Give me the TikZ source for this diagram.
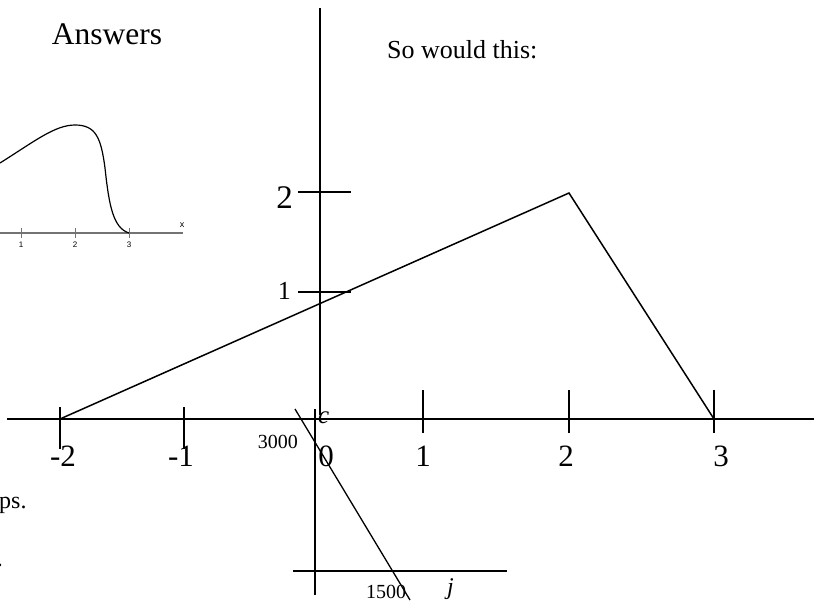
\documentclass[tikz,border=0pt]{standalone}
\usepackage{fontspec}
\setmainfont{Liberation Serif}
\newfontfamily\smallsans{Liberation Sans}
\begin{document}
\begin{tikzpicture}[x=1pt,y=-1pt,
  axis/.style={line width=1.5pt},
  plotline/.style={line width=1.5pt},
  gray axis/.style={line width=1.3pt,draw=black!55},
  big/.style={font=\fontsize{31}{31}\selectfont,inner sep=0pt},
  mid/.style={font=\fontsize{20}{20}\selectfont,inner sep=0pt},
  tiny/.style={font=\smallsans\fontsize{8}{8}\selectfont,inner sep=0pt},
]
\useasboundingbox (0,0) rectangle (814,600);

% titles
\node[font=\fontsize{31.5}{31.5}\selectfont,inner sep=0pt,anchor=base] (title) at (107,44.5) {Answers};
\node[font=\fontsize{26}{26}\selectfont,inner sep=0pt,anchor=base west] (sowould) at (387,58) {So would this:};
\node[font=\fontsize{24}{24}\selectfont,inner sep=0pt,anchor=base west] (ps) at (-1,508) {ps.};
\node[font=\fontsize{24}{24}\selectfont,inner sep=0pt,anchor=base east] (dot) at (3,566) {.};

% small graph (inset)
\coordinate (sa0) at (0,233);
\coordinate (sa1) at (183,233);
\draw[gray axis] (sa0) -- (sa1);
\foreach \i/\x in {1/21,2/75,3/129}{
  \coordinate (st\i a) at (\x,228);
  \coordinate (st\i b) at (\x,238);
  \draw[line width=1pt,draw=black!55] (st\i a) -- (st\i b);
  \node[tiny,anchor=base] (sl\i) at (\x,247) {\i};
}
\node[tiny,font=\smallsans\fontsize{9}{9}\selectfont] (sx) at (182,225) {x};
\coordinate (c0) at (0,163);
\coordinate (c1) at (75,125);
\coordinate (c2) at (105,168);
\coordinate (c3) at (129,233);
\draw[line width=1.2pt] (c0) .. controls (35,141) and (55,125) .. (c1)
  .. controls (96,125) and (101,138) .. (c2)
  .. controls (109,205) and (113,228) .. (c3);

% main axes
\coordinate (xl) at (7,419);
\coordinate (xr) at (814,419);
\coordinate (yt) at (320,8);
\coordinate (yb) at (320,415);
\draw[axis] (xl) -- (xr);
\draw[axis] (yt) -- (yb);

% x ticks
\foreach \n/\x/\a/\b in {m2/60/407/449, m1/184/407/449, p1/423/390/433, p2/569/390/433, p3/714/390/433}{
  \coordinate (tx\n a) at (\x,\a);
  \coordinate (tx\n b) at (\x,\b);
  \draw[axis] (tx\n a) -- (tx\n b);
}
\node[big,anchor=base] (lm2) at (63,466) {-2};
\node[big,anchor=base] (lm1) at (181,466) {-1};
\node[big,anchor=base] (l0) at (326,466) {0};
\node[big,anchor=base] (l1) at (423,466) {1};
\node[big,anchor=base] (l2) at (566,466) {2};
\node[big,anchor=base] (l3) at (721,466) {3};

% y ticks
\coordinate (ty2a) at (298,192);
\coordinate (ty2b) at (351,192);
\coordinate (ty1a) at (298,292);
\coordinate (ty1b) at (351,292);
\draw[axis] (ty2a) -- (ty2b);
\draw[axis] (ty1a) -- (ty1b);
\node[font=\fontsize{33}{33}\selectfont,inner sep=0pt,anchor=base east] (ly2) at (293,208) {2};
\node[font=\fontsize{26}{26}\selectfont,inner sep=0pt,anchor=base east] (ly1) at (291,299) {1};

% main polyline
\coordinate (pA) at (60,419);
\coordinate (pB) at (569,193);
\coordinate (pC) at (714,419);
\draw[plotline] (pA) -- (pB) -- (pC);

% lower small graph (c vs j)
\coordinate (vt) at (315,409);
\coordinate (vb) at (315,595);
\coordinate (hl) at (293,571);
\coordinate (hr) at (507,571);
\coordinate (s0) at (295,409);
\coordinate (s1) at (410,600);
\draw[axis] (vt) -- (vb);
\draw[axis] (hl) -- (hr);
\draw[line width=1.3pt] (s0) -- (s1);
\node[font=\fontsize{25}{25}\selectfont\itshape,inner sep=0pt,anchor=base west] (lc) at (318,423) {c};
\node[mid,anchor=base east] (l3000) at (298,448) {3000};
\node[mid,anchor=base west] (l1500) at (366,598) {1500};
\node[font=\fontsize{24}{24}\selectfont\itshape,inner sep=0pt,anchor=base west] (lj) at (447,594) {j};
\end{tikzpicture}
\end{document}
